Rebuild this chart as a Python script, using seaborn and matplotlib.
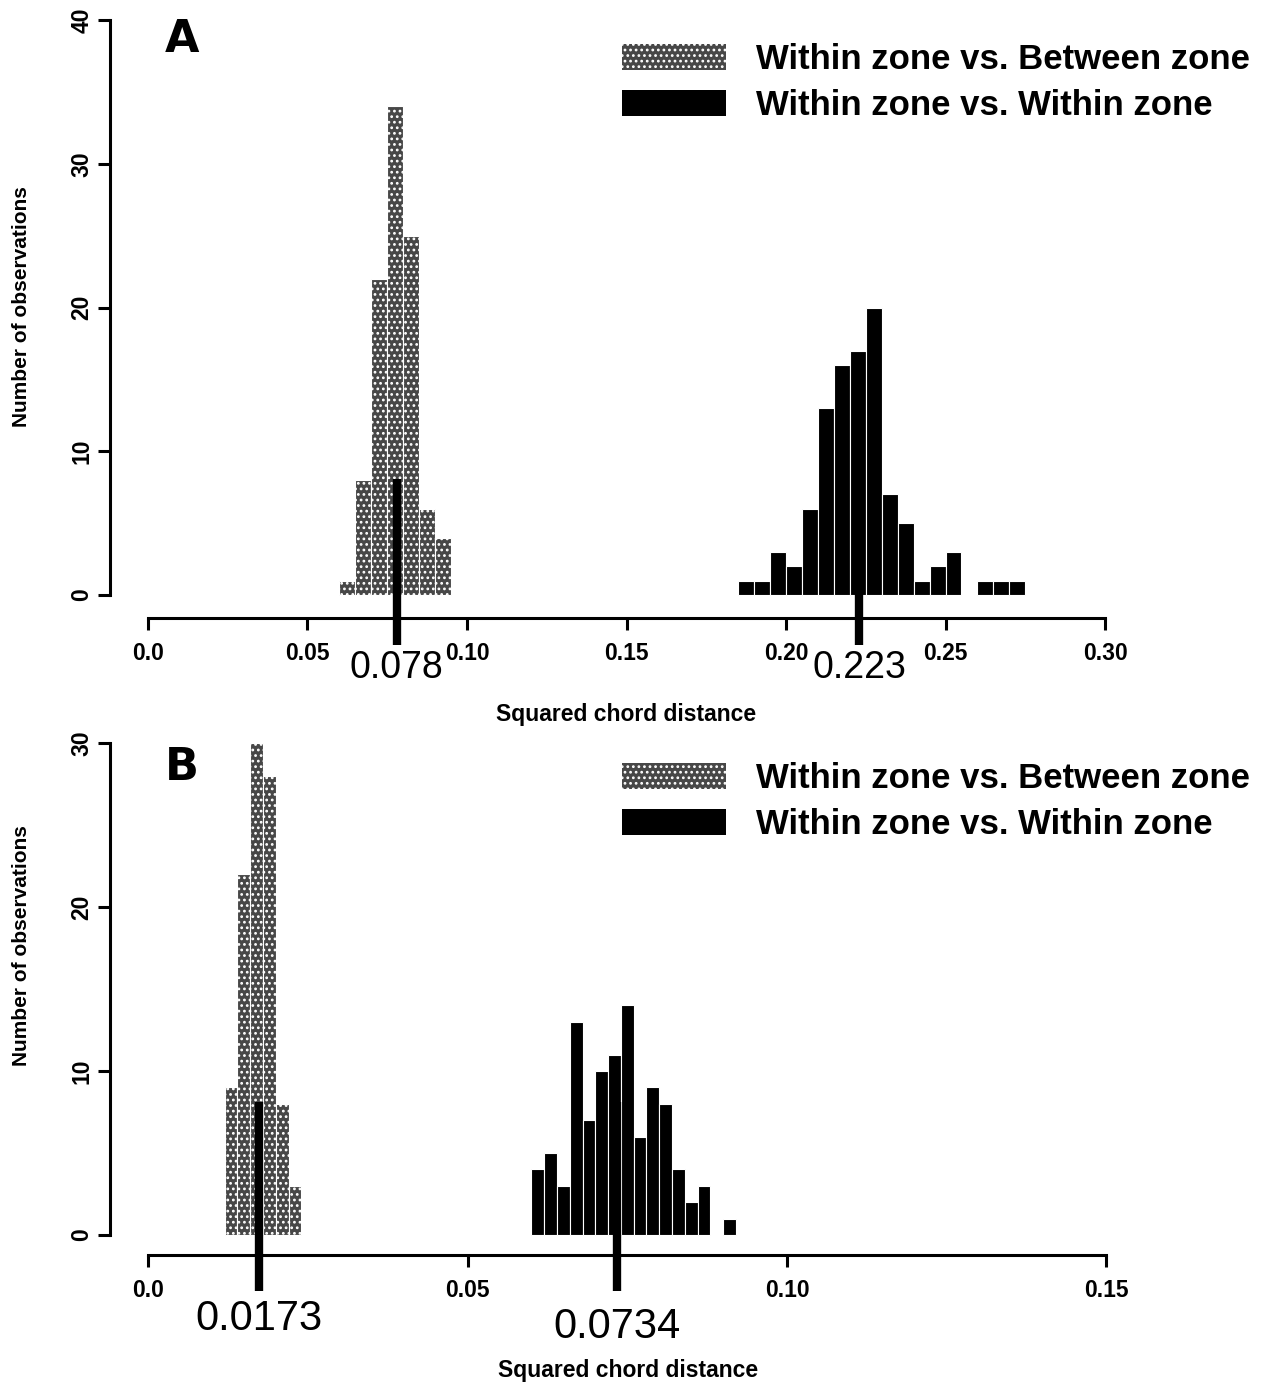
import numpy as np
import pandas as pd
import seaborn as sns
import matplotlib.pyplot as plt
from matplotlib.patches import Patch

sns.set_theme(style="white")
plt.rcParams['font.family'] = ['Liberation Sans', 'DejaVu Sans']
plt.rcParams['hatch.linewidth'] = 1.2
plt.rcParams['text.color'] = 'black'
plt.rcParams['xtick.color'] = 'black'
plt.rcParams['ytick.color'] = 'black'
plt.rcParams['axes.labelcolor'] = 'black'

# Panel A: counts per bin (bin width 0.005)
a_between_start = 0.060
a_between_counts = [1, 8, 22, 34, 25, 6, 4]
a_within_start = 0.185
a_within_counts = [1, 1, 3, 2, 6, 13, 16, 17, 20, 7, 5, 1, 2, 3, 0, 1, 1, 1]
a_bin = 0.005
a_means = [0.078, 0.223]
a_mean_labels = ["0.078", "0.223"]
a_xticks = [0.0, 0.05, 0.10, 0.15, 0.20, 0.25, 0.30]
a_xticklabels = ["0.0", "0.05", "0.10", "0.15", "0.20", "0.25", "0.30"]
a_yticks = [0, 10, 20, 30, 40]

# Panel B: counts per bin (bin width 0.002)
b_between_start = 0.012
b_between_counts = [9, 22, 30, 28, 8, 3]
b_within_start = 0.060
b_within_counts = [4, 5, 3, 13, 7, 10, 11, 14, 6, 9, 8, 4, 2, 3, 0, 1]
b_bin = 0.002
b_means = [0.0173, 0.0734]
b_mean_labels = ["0.0173", "0.0734"]
b_xticks = [0.0, 0.05, 0.10, 0.15]
b_xticklabels = ["0.0", "0.05", "0.10", "0.15"]
b_yticks = [0, 10, 20, 30]

legend_labels = ["Within zone vs. Between zone", "Within zone vs. Within zone"]

GREY = "0.28"
W, H = 1271, 1383

fig = plt.figure(figsize=(W / 100, H / 100), dpi=100)


def px_axes(left, right, top, bottom):
    return fig.add_axes([left / W, 1 - bottom / H, (right - left) / W, (bottom - top) / H])


def hist_frame(start, width, counts):
    n = len(counts)
    centers = np.round(start + width * (np.arange(n) + 0.5), 6)
    return pd.DataFrame({"x": centers, "n": counts}), (start, round(start + width * n, 6))


def draw_panel(ax, between, within, width, means, mean_labels, mean_label_y, mean_fs,
               xticks, xticklabels, yticks, xlim, ylim, line_bottom):
    df_b, r_b = hist_frame(between[0], width, between[1])
    df_w, r_w = hist_frame(within[0], width, within[1])
    sns.histplot(data=df_b, x="x", weights="n", binwidth=width, binrange=r_b, ax=ax,
                 color=GREY, edgecolor="white", linewidth=0.8, alpha=1, hatch="...")
    sns.histplot(data=df_w, x="x", weights="n", binwidth=width, binrange=r_w, ax=ax,
                 color="black", edgecolor="white", linewidth=0.8, alpha=1)
    ax.vlines(means, line_bottom, 8.1, color="black", linewidth=6, zorder=5, clip_on=False)
    for m, lab, ly in zip(means, mean_labels, mean_label_y):
        ax.text(m, ly, lab, ha="center", va="center", fontsize=mean_fs, clip_on=False)

    ax.set_xlim(*xlim)
    ax.set_ylim(*ylim)
    ax.set_xticks(xticks)
    ax.set_xticklabels(xticklabels, fontweight="bold", fontsize=16.5)
    ax.set_yticks(yticks)
    ax.set_yticklabels([str(t) for t in yticks], fontweight="bold", fontsize=16.5,
                       rotation=90, va="center")
    ax.set_xlabel("")
    ax.set_ylabel("")
    for s in ["top", "right"]:
        ax.spines[s].set_visible(False)
    ax.spines["left"].set_bounds(yticks[0], yticks[-1])
    ax.spines["bottom"].set_bounds(xticks[0], xticks[-1])
    for s in ["left", "bottom"]:
        ax.spines[s].set_linewidth(2.2)
        ax.spines[s].set_color("black")
    ax.tick_params(axis="both", direction="out", length=8.6, width=2.2, color="black",
                   bottom=True, left=True)
    ax.tick_params(axis="x", pad=9)
    ax.tick_params(axis="y", pad=3)
    ax.patch.set_alpha(0)

    handles = [Patch(facecolor=GREY, edgecolor="white", hatch="...", linewidth=0),
               Patch(facecolor="black", edgecolor="black", linewidth=0)]
    return handles


def add_legend(ax, handles, top_px):
    ax.legend(handles, legend_labels, loc="upper left", bbox_to_anchor=(622 / W, 1 - top_px / H),
              bbox_transform=fig.transFigure, frameon=False,
              prop={"size": 25, "weight": "bold"}, handlelength=3.0, handleheight=0.78,
              handletextpad=0.86, labelspacing=0.38, borderpad=0, borderaxespad=0)


# Panel A
axA = px_axes(109.7, 1143.3, -3.0, 618.0)
hA = draw_panel(axA, (a_between_start, a_between_counts), (a_within_start, a_within_counts),
                a_bin, a_means, a_mean_labels, [-5.1, -5.1], 27,
                a_xticks, a_xticklabels, a_yticks, (-0.012, 0.312), (-1.6, 41.6), -3.5)
add_legend(axA, hA, 43)

# Panel B
axB = px_axes(109.7, 1144.8, 723.3, 1254.7)
hB = draw_panel(axB, (b_between_start, b_between_counts), (b_within_start, b_within_counts),
                b_bin, b_means, b_mean_labels, [-5.1, -5.6], 30,
                b_xticks, b_xticklabels, b_yticks, (-0.006, 0.156), (-1.2, 31.2), -3.4)
add_legend(axB, hB, 762)

# panel letters and axis titles
fig.text(182 / W, 1 - 40 / H, "A", fontsize=32, fontweight="heavy", family="DejaVu Sans",
         ha="center", va="center")
fig.text(182 / W, 1 - 767 / H, "B", fontsize=32, fontweight="heavy", family="DejaVu Sans",
         ha="center", va="center")
fig.text(626 / W, 1 - 714 / H, "Squared chord distance", fontsize=16.5, fontweight="bold",
         ha="center", va="center")
fig.text(628 / W, 1 - 1370 / H, "Squared chord distance", fontsize=16.5, fontweight="bold",
         ha="center", va="center")
fig.text(22 / W, 1 - 307 / H, "Number of observations", fontsize=15, fontweight="bold",
         rotation=90, ha="center", va="center")
fig.text(22 / W, 1 - 946 / H, "Number of observations", fontsize=15, fontweight="bold",
         rotation=90, ha="center", va="center")

fig.savefig("out.png", dpi=100)
